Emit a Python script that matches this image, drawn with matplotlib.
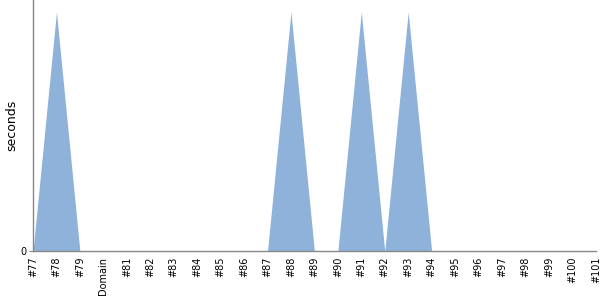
import matplotlib
matplotlib.use("Agg")
import matplotlib.pyplot as plt

# ---------------- DATA ----------------
labels = ["#77", "#78", "#79", "Domain", "#81", "#82", "#83", "#84", "#85",
          "#86", "#87", "#88", "#89", "#90", "#91", "#92", "#93", "#94",
          "#95", "#96", "#97", "#98", "#99", "#100", "#101"]
seconds = [0, 1, 0, 0, 0, 0, 0, 0, 0,
           0, 0, 1, 0, 0, 1, 0, 1, 0,
           0, 0, 0, 0, 0, 0, 0]

# ---------------- GRAPH ----------------
fig = plt.figure(figsize=(6, 3), dpi=100)
ax = fig.add_axes([0.055, 0.163, 0.938, 0.837])

x = range(len(labels))
ax.fill_between(x, seconds, 0, color="#8fb2db", linewidth=0)

ax.set_xlim(0, len(labels) - 1)
ax.set_ylim(0, 1.05)
ax.set_xticks(list(x))
ax.set_xticklabels(labels, rotation=90, fontsize=7)
ax.set_yticks([0])
ax.set_yticklabels(["0"], fontsize=7)
ax.set_ylabel("seconds", fontsize=9, labelpad=1)
ax.tick_params(axis="x", length=0, pad=4)
ax.tick_params(axis="y", length=3, color="#888888", pad=2)

for s in ("top", "right"):
    ax.spines[s].set_visible(False)
for s in ("left", "bottom"):
    ax.spines[s].set_color("#888888")
    ax.spines[s].set_linewidth(1)

fig.savefig("out.png")
